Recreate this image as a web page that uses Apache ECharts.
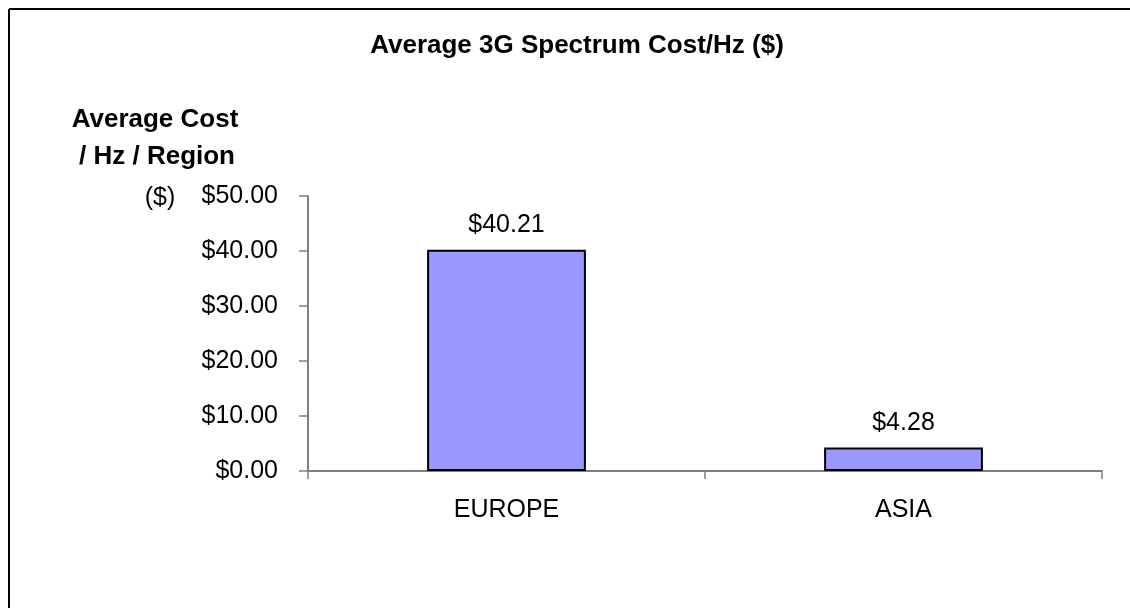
<!DOCTYPE html>
<html>
<head>
<meta charset="utf-8">
<style>
  html, body { margin: 0; padding: 0; background: #ffffff; }
  #chart { width: 1130px; height: 608px; }
</style>
<script src="https://cdn.jsdelivr.net/npm/echarts@6/dist/echarts.min.js"></script>
</head>
<body>
<div id="chart"></div>
<script>
// Average 3G spectrum cost per Hz, by region
const regions = ['EUROPE', 'ASIA'];
const costPerHz = [40.21, 4.28];
const yTicks = { min: 0, max: 50, interval: 10 };

const FONT = '"Liberation Sans", Arial, sans-serif';
const money = v => '$' + Number(v).toFixed(2);

const chart = echarts.init(document.getElementById('chart'), null, { renderer: 'canvas' });

chart.setOption({
  backgroundColor: '#ffffff',
  animation: false,
  textStyle: { fontFamily: FONT },
  title: {
    text: 'Average 3G Spectrum Cost/Hz ($)',
    left: 572,
    top: 28,
    textAlign: 'center',
    textStyle: { fontFamily: FONT, fontSize: 26, fontWeight: 'bold', color: '#000000' }
  },
  graphic: [
    // chart frame (top and left edges)
    { type: 'line', shape: { x1: 9, y1: 9, x2: 1130, y2: 9 }, style: { stroke: '#000000', lineWidth: 2 } },
    { type: 'line', shape: { x1: 9, y1: 9, x2: 9, y2: 608 }, style: { stroke: '#000000', lineWidth: 2 } },
    // value axis title
    {
      type: 'text',
      style: {
        x: 155, y: 120, text: 'Average Cost', textAlign: 'center', textVerticalAlign: 'middle',
        font: 'bold 26px ' + FONT, fill: '#000000'
      }
    },
    {
      type: 'text',
      style: {
        x: 157, y: 157, text: '/ Hz / Region', textAlign: 'center', textVerticalAlign: 'middle',
        font: 'bold 26px ' + FONT, fill: '#000000'
      }
    },
    {
      type: 'text',
      style: {
        x: 160, y: 198, text: '($)', textAlign: 'center', textVerticalAlign: 'middle',
        font: '25px ' + FONT, fill: '#000000'
      }
    }
  ],
  grid: { left: 308, right: 28, top: 196, bottom: 137, containLabel: false },
  xAxis: {
    type: 'category',
    data: regions,
    boundaryGap: true,
    axisLine: { show: true, lineStyle: { color: '#808080', width: 2 } },
    axisTick: { show: true, alignWithLabel: false, length: 8, lineStyle: { color: '#808080', width: 1.5 } },
    axisLabel: { margin: 27, fontSize: 25, color: '#000000', fontFamily: FONT },
    splitLine: { show: false }
  },
  yAxis: {
    type: 'value',
    min: yTicks.min,
    max: yTicks.max,
    interval: yTicks.interval,
    axisLine: { show: true, lineStyle: { color: '#808080', width: 2 } },
    axisTick: { show: true, inside: false, length: 9, lineStyle: { color: '#808080', width: 1.5 } },
    axisLabel: { margin: 30, fontSize: 25, color: '#000000', fontFamily: FONT, formatter: money },
    splitLine: { show: false }
  },
  series: [{
    type: 'bar',
    data: costPerHz,
    barWidth: '40%',
    itemStyle: { color: '#9999FF', borderColor: '#000000', borderWidth: 2 },
    label: {
      show: true,
      position: 'top',
      distance: 12,
      fontSize: 25,
      color: '#000000',
      fontFamily: FONT,
      formatter: p => money(p.value)
    }
  }]
});
</script>
</body>
</html>
